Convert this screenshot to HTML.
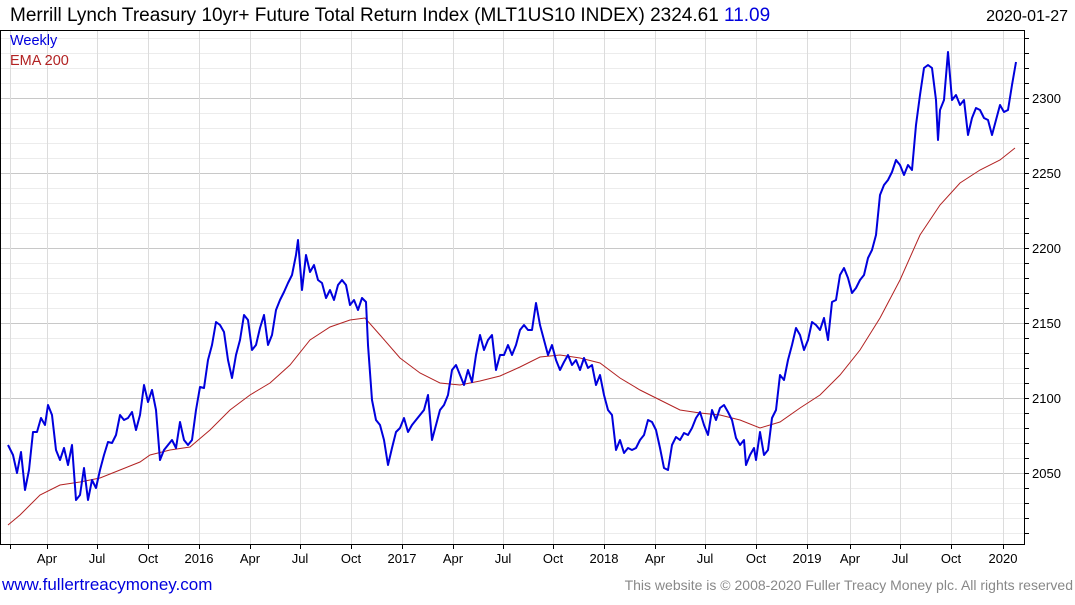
<!DOCTYPE html>
<html><head><meta charset="utf-8"><style>
body{margin:0;background:#fff;width:1075px;height:600px;overflow:hidden}
</style></head><body>
<svg width="1075" height="600" xmlns="http://www.w3.org/2000/svg" font-family="Liberation Sans, DejaVu Sans, sans-serif">
<path stroke="#ececec" stroke-width="1" fill="none" d="M1 38.5H1024M1 53.5H1024M1 68.5H1024M1 83.5H1024M1 113.5H1024M1 128.5H1024M1 143.5H1024M1 158.5H1024M1 188.5H1024M1 203.5H1024M1 218.5H1024M1 233.5H1024M1 263.5H1024M1 278.5H1024M1 293.5H1024M1 308.5H1024M1 338.5H1024M1 353.5H1024M1 368.5H1024M1 383.5H1024M1 413.5H1024M1 428.5H1024M1 443.5H1024M1 458.5H1024M1 488.5H1024M1 503.5H1024M1 518.5H1024M1 533.5H1024"/>
<path stroke="#c8c8c8" stroke-width="1" fill="none" d="M1 98.5H1024M1 173.5H1024M1 248.5H1024M1 323.5H1024M1 398.5H1024M1 473.5H1024"/>
<path stroke="#dcdcdc" stroke-width="1" fill="none" d="M10.5 30V544M47.5 30V544M97.5 30V544M148.5 30V544M199.5 30V544M250.5 30V544M300.5 30V544M351.5 30V544M402.5 30V544M453.5 30V544M503.5 30V544M553.5 30V544M604.5 30V544M655.5 30V544M705.5 30V544M756.5 30V544M807.5 30V544M850.5 30V544M900.5 30V544M951.5 30V544M1003.5 30V544"/>
<rect x="0.5" y="30.5" width="1024" height="514" fill="none" stroke="#000"/>
<path stroke="#000" stroke-width="1" fill="none" d="M10.5 544V549M47.5 544V549M97.5 544V549M148.5 544V549M199.5 544V549M250.5 544V549M300.5 544V549M351.5 544V549M402.5 544V549M453.5 544V549M503.5 544V549M553.5 544V549M604.5 544V549M655.5 544V549M705.5 544V549M756.5 544V549M807.5 544V549M850.5 544V549M900.5 544V549M951.5 544V549M1003.5 544V549M1024 38.5H1029M1024 53.5H1029M1024 68.5H1029M1024 83.5H1029M1024 98.5H1029M1024 113.5H1029M1024 128.5H1029M1024 143.5H1029M1024 158.5H1029M1024 173.5H1029M1024 188.5H1029M1024 203.5H1029M1024 218.5H1029M1024 233.5H1029M1024 248.5H1029M1024 263.5H1029M1024 278.5H1029M1024 293.5H1029M1024 308.5H1029M1024 323.5H1029M1024 338.5H1029M1024 353.5H1029M1024 368.5H1029M1024 383.5H1029M1024 398.5H1029M1024 413.5H1029M1024 428.5H1029M1024 443.5H1029M1024 458.5H1029M1024 473.5H1029M1024 488.5H1029M1024 503.5H1029M1024 518.5H1029M1024 533.5H1029"/>
<g font-size="13" fill="#000" text-anchor="middle">
<text x="47" y="563">Apr</text><text x="97" y="563">Jul</text><text x="148" y="563">Oct</text><text x="199" y="563">2016</text><text x="250" y="563">Apr</text><text x="300" y="563">Jul</text><text x="351" y="563">Oct</text><text x="402" y="563">2017</text><text x="453" y="563">Apr</text><text x="503" y="563">Jul</text><text x="553" y="563">Oct</text><text x="604" y="563">2018</text><text x="655" y="563">Apr</text><text x="705" y="563">Jul</text><text x="756" y="563">Oct</text><text x="807" y="563">2019</text><text x="850" y="563">Apr</text><text x="900" y="563">Jul</text><text x="951" y="563">Oct</text><text x="1003" y="563">2020</text>
</g>
<g font-size="13" fill="#000">
<text x="1032" y="103">2300</text><text x="1032" y="178">2250</text><text x="1032" y="253">2200</text><text x="1032" y="328">2150</text><text x="1032" y="403">2100</text><text x="1032" y="478">2050</text>
</g>
<polyline fill="none" stroke="#b22222" stroke-width="1" points="8,525 20,515 40,495 60,485 80,482 100,478 120,470 140,462 150,455 170,450 190,447 210,430 230,410 250,395 270,383 290,365 310,340 330,327 350,320 365,318 380,335 400,358 420,373 440,383 460,385 480,381 500,376 520,367 540,357 560,355 580,358 600,363 620,378 640,390 660,400 680,410 700,413 720,415 740,420 760,428 780,422 800,408 820,395 840,375 860,350 880,318 900,280 920,235 940,205 960,183 980,170 1000,160 1015,148"/>
<polyline fill="none" stroke="#0000dd" stroke-width="2" stroke-linejoin="round" points="8,445 13,455 17,473 21,452 25,490 29,470 33,432 37,432 41,418 45,425 48,405 52,415 56,450 60,460 64,448 68,465 72,445 76,500 80,495 84,468 88,500 92,480 96,488 100,470 104,455 108,442 112,443 116,435 120,415 124,420 128,418 132,412 136,430 140,415 144,385 148,402 152,390 156,410 160,460 164,450 168,445 172,440 176,448 180,422 184,440 188,445 192,440 196,410 200,387 204,388 208,360 212,345 216,322 220,325 224,332 228,360 232,378 236,355 240,340 244,315 248,320 252,350 256,345 260,328 264,315 268,345 272,335 276,310 280,300 284,292 288,283 292,275 296,255 298,240 302,290 306,255 310,272 314,265 318,280 322,283 326,298 330,290 334,300 338,285 342,280 346,285 350,305 354,300 358,310 362,298 366,302 368,345 372,400 376,420 380,425 384,440 388,465 392,448 396,432 400,428 404,418 408,432 412,425 416,420 420,415 424,410 428,395 432,440 436,425 440,410 444,405 448,395 452,370 456,365 460,375 464,385 468,370 472,382 476,355 480,335 484,350 488,340 492,335 496,370 500,355 504,355 508,345 512,355 516,345 520,330 524,325 528,330 532,330 536,303 540,325 544,340 548,355 552,345 556,360 560,370 564,362 568,355 572,365 576,360 580,370 584,358 588,368 592,365 596,385 600,375 604,395 608,410 612,415 616,450 620,440 624,453 628,448 632,450 636,448 640,440 644,435 648,420 652,422 656,430 660,448 664,468 668,470 672,445 676,437 680,440 684,433 688,435 692,428 696,418 700,412 704,425 708,435 712,410 716,420 720,408 724,405 728,412 732,420 736,438 740,445 744,440 746,465 750,455 754,448 756,460 760,432 764,455 768,450 772,418 776,410 780,375 784,380 788,360 792,345 796,328 800,335 804,350 808,340 812,322 816,325 820,330 824,318 828,340 832,302 836,300 840,275 844,268 848,278 852,293 856,288 860,280 864,275 868,258 872,250 876,235 880,195 884,185 888,180 892,172 896,160 900,165 904,175 908,165 912,170 916,125 920,95 924,68 928,65 932,68 936,100 938,140 940,110 944,100 948,52 952,100 956,95 960,105 964,100 968,135 972,118 976,108 980,110 984,118 988,120 992,135 996,120 1000,105 1004,112 1008,110 1012,85 1016,62"/>
<text x="10" y="45" font-size="14.5" fill="#0000dd">Weekly</text>
<text x="10" y="65" font-size="14.5" fill="#b22222">EMA 200</text>
<text x="10" y="21" font-size="19" fill="#000">Merrill Lynch Treasury 10yr+ Future Total Return Index (MLT1US10 INDEX) 2324.61 <tspan fill="#0000dd">11.09</tspan></text>
<text x="1068" y="21" font-size="16" fill="#000" text-anchor="end">2020-01-27</text>
<text x="2" y="590" font-size="17" fill="#0000dd">www.fullertreacymoney.com</text>
<text x="1073" y="590" font-size="14" fill="#888" text-anchor="end">This website is © 2008-2020 Fuller Treacy Money plc. All rights reserved</text>
</svg>
</body></html>
